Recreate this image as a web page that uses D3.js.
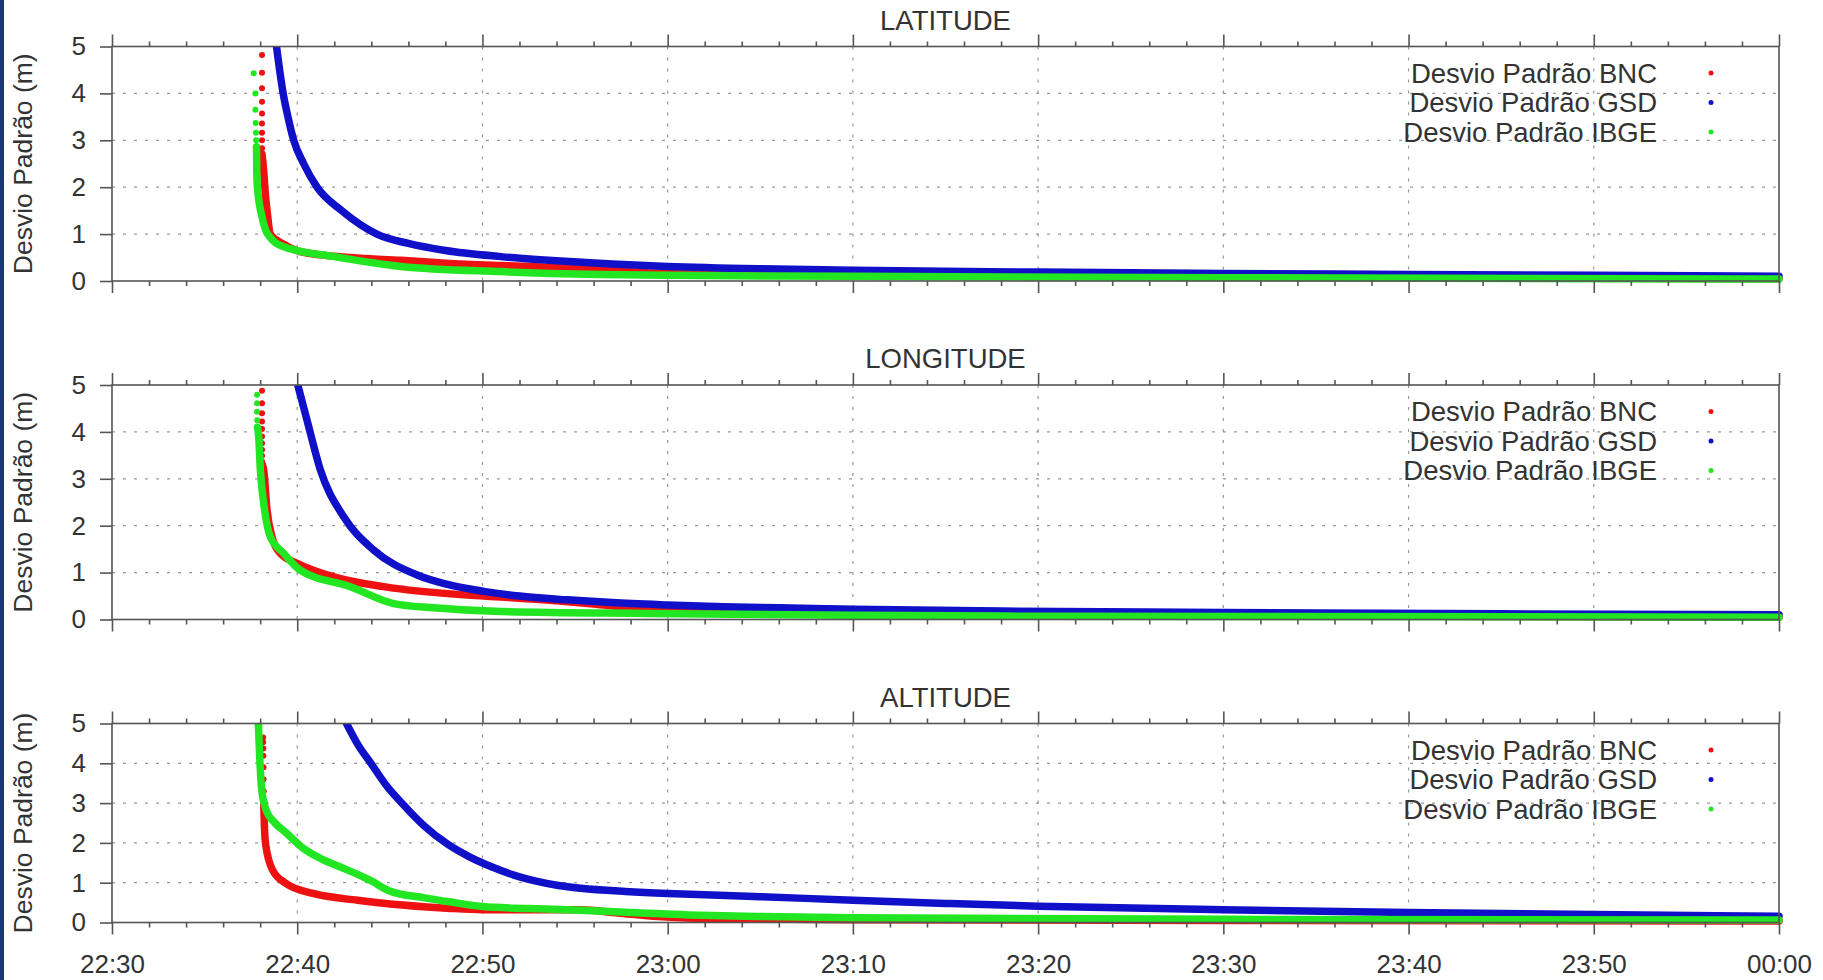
<!DOCTYPE html>
<html>
<head>
<meta charset="utf-8">
<script src="https://cdn.jsdelivr.net/npm/d3@7"></script>
<style>
body { margin: 0; background: #fff; }
text { font-family: "Liberation Sans", Arial, sans-serif; fill: #333; }
</style>
</head>
<body>
<svg id="chart" width="1823" height="980"></svg>
<script>
// times are minutes after 22:30, values in metres
var titles = ['LATITUDE', 'LONGITUDE', 'ALTITUDE'];
var seriesNames = ['Desvio Padrão BNC', 'Desvio Padrão GSD', 'Desvio Padrão IBGE'];
var yTicks = [0, 1, 2, 3, 4, 5];

var latBnc = [[8.1,2.7],[8.2,2.3],[8.25,2.0],[8.4,1.4],[8.55,1.0],[9.3,0.78],[10.2,0.62],[12.9,0.5],[15.6,0.44],[18,0.38],[21,0.33],[24,0.29],[26.5,0.25],[28,0.2],[30,0.16],[35,0.13],[45,0.1],[60,0.08],[90,0.05]];
var latBncDots = [[8.1,4.82],[8.1,4.44],[8.1,4.11],[8.1,3.82],[8.1,3.57],[8.1,3.36],[8.1,3.16],[8.1,3.0],[8.1,2.83]];
var latGsd = [[8.88,5],[9.05,4.5],[9.24,4],[9.5,3.5],[9.81,3],[10.35,2.5],[11.07,2],[12.4,1.5],[14.3,1.0],[16,0.8],[18,0.65],[21,0.52],[24,0.43],[27,0.36],[30,0.31],[35,0.26],[40,0.23],[50,0.19],[60,0.16],[70,0.14],[80,0.12],[90,0.1]];
var latGsdDots = [];
var latIbge = [[7.8,2.86],[7.82,2.3],[7.85,2.0],[8.1,1.37],[8.4,1.0],[9.27,0.73],[12,0.52],[15.6,0.31],[21,0.2],[26.4,0.14],[30,0.12],[40,0.1],[60,0.07],[90,0.04]];
var latIbgeDots = [[7.65,4.43],[7.74,4.0],[7.74,3.65],[7.76,3.37],[7.77,3.16],[7.78,3.0]];

var lonBnc = [[8.12,3.3],[8.19,3.19],[8.37,2.33],[8.64,1.76],[9.09,1.41],[9.99,1.2],[11.97,0.91],[14.67,0.7],[19.17,0.52],[21,0.48],[24,0.4],[26,0.33],[28,0.25],[30,0.2],[35,0.15],[45,0.1],[60,0.08],[90,0.05]];
var lonBncDots = [[8.1,4.88],[8.1,4.61],[8.1,4.4],[8.1,4.22],[8.1,4.06],[8.1,3.9],[8.1,3.76],[8.1,3.62],[8.1,3.49],[8.1,3.37]];
var lonGsd = [[10.03,5],[10.53,4.25],[11.25,3.19],[12.51,2.19],[14.13,1.48],[16.47,0.95],[18,0.76],[20.07,0.6],[22,0.5],[24.57,0.42],[27,0.36],[30,0.31],[33,0.27],[36,0.25],[40,0.22],[48,0.18],[60,0.15],[75,0.12],[90,0.1]];
var lonGsdDots = [];
var lonIbge = [[7.85,4.1],[7.92,3.9],[8.01,3.19],[8.19,2.48],[8.55,1.76],[9.27,1.41],[10.17,1.05],[12.87,0.7],[15.21,0.34],[17.37,0.25],[21,0.17],[29,0.13],[40,0.09],[50,0.07],[90,0.05]];
var lonIbgeDots = [[7.83,4.79],[7.83,4.61],[7.83,4.43],[7.84,4.25]];

var altBnc = [[8.19,3.02],[8.23,2.4],[8.3,1.95],[8.68,1.31],[9.4,0.98],[10.85,0.73],[13.26,0.56],[15.67,0.44],[18.08,0.36],[20,0.32],[23,0.32],[25.3,0.32],[27.3,0.24],[29.5,0.15],[31.77,0.1],[40,0.07],[60,0.05],[90,0.04]];
var altBncDots = [[8.16,4.65],[8.16,4.53],[8.17,4.37],[8.17,4.19],[8.18,3.9],[8.18,3.6],[8.19,3.3]];
var altGsd = [[12.66,5],[13.3,4.45],[13.98,4.0],[14.8,3.45],[15.67,2.99],[16.8,2.45],[18.08,1.98],[19.3,1.65],[20.49,1.4],[21.7,1.19],[22.9,1.04],[24.1,0.93],[25.31,0.86],[27.72,0.78],[30,0.73],[32,0.7],[35,0.65],[40,0.56],[45,0.48],[50,0.41],[60,0.32],[70,0.25],[80,0.2],[90,0.16]];
var altGsdDots = [];
var altIbge = [[7.9,5],[7.97,4.2],[8.07,3.4],[8.3,2.85],[8.8,2.5],[9.36,2.27],[10.37,1.85],[11.3,1.6],[12.3,1.4],[13.2,1.22],[13.98,1.05],[14.95,0.8],[16.87,0.62],[18.5,0.5],[20,0.4],[22.5,0.35],[25.3,0.31],[28,0.25],[31.77,0.18],[35,0.15],[40,0.12],[60,0.08],[90,0.06]];
var altIbgeDots = [];

var panelSeries = [
	[[latBnc, latBncDots], [latGsd, latGsdDots], [latIbge, latIbgeDots]],
	[[lonBnc, lonBncDots], [lonGsd, lonGsdDots], [lonIbge, lonIbgeDots]],
	[[altBnc, altBncDots], [altGsd, altGsdDots], [altIbge, altIbgeDots]]
];

var colors = ['#ee1111', '#1010c8', '#22e622'],
	panelBox = [[46.5, 281], [385, 619.5], [723.5, 922.5]],
	left = 112, right = 1779;

var t0 = new Date(2015, 0, 1, 22, 30);
function tm(m) { return new Date(t0.getTime() + m * 60000); }

var svg = d3.select('#chart');
svg.append('rect').attr('width', 1823).attr('height', 980).attr('fill', '#fff');
svg.append('rect').attr('width', 4).attr('height', 980).attr('fill', '#17377a');

var x = d3.scaleTime().domain([tm(0), tm(90)]).range([left, right]);
var majorT = d3.range(0, 91, 10).map(tm),
	minorT = d3.range(0, 91, 2).filter(function (m) { return m % 10; }).map(tm);

panelBox.forEach(function (box, p) {
	var top = box[0], bottom = box[1],
		y = d3.scaleLinear().domain([0, 5]).range([bottom, top]),
		g = svg.append('g').attr('class', 'panel');

	// grid
	g.selectAll('line.hgrid').data([1, 2, 3, 4]).enter().append('line')
		.attr('x1', left).attr('x2', right)
		.attr('y1', function (d) { return y(d); }).attr('y2', function (d) { return y(d); })
		.attr('stroke', '#999').attr('stroke-width', 1.2).attr('stroke-dasharray', '3,8');
	g.selectAll('line.vgrid').data(majorT.slice(1, -1)).enter().append('line')
		.attr('x1', function (d) { return x(d); }).attr('x2', function (d) { return x(d); })
		.attr('y1', top).attr('y2', bottom)
		.attr('stroke', '#999').attr('stroke-width', 1.2).attr('stroke-dasharray', '3,8');

	// series
	var clipId = 'clip' + p;
	g.append('clipPath').attr('id', clipId).append('rect')
		.attr('x', left - 10).attr('y', top).attr('width', right - left + 14).attr('height', bottom - top + 4);
	var line = d3.line()
		.x(function (d) { return x(tm(d[0])); })
		.y(function (d) { return y(d[1]); })
		.curve(d3.curveMonotoneX);
	var plot = g.append('g').attr('clip-path', 'url(#' + clipId + ')');
	[0, 1, 2].forEach(function (i) {
		var s = panelSeries[p][i];
		plot.append('path').datum(s[0]).attr('d', line)
			.attr('fill', 'none').attr('stroke', colors[i]).attr('stroke-width', 7.5)
			.attr('stroke-linecap', 'round').attr('stroke-linejoin', 'round');
		plot.selectAll('circle.s' + i).data(s[1]).enter().append('circle')
			.attr('cx', function (d) { return x(tm(d[0])); })
			.attr('cy', function (d) { return y(d[1]); })
			.attr('r', 3).attr('fill', colors[i]);
	});

	// frame
	g.append('rect').attr('x', left).attr('y', top).attr('width', right - left).attr('height', bottom - top)
		.attr('fill', 'none').attr('stroke', '#555').attr('stroke-width', 1.6);

	// ticks
	var lastPanel = p === panelBox.length - 1;
	g.append('g').attr('transform', 'translate(0,' + bottom + ')')
		.call(d3.axisBottom(x).tickValues(majorT).tickSize(12).tickPadding(20)
			.tickFormat(lastPanel ? d3.timeFormat('%H:%M') : function () { return ''; }));
	g.append('g').attr('transform', 'translate(0,' + bottom + ')')
		.call(d3.axisBottom(x).tickValues(minorT).tickSize(5).tickFormat(''));
	g.append('g').attr('transform', 'translate(0,' + top + ')')
		.call(d3.axisTop(x).tickValues(majorT).tickSize(12).tickFormat(''));
	g.append('g').attr('transform', 'translate(0,' + top + ')')
		.call(d3.axisTop(x).tickValues(minorT).tickSize(5).tickFormat(''));
	g.append('g').attr('transform', 'translate(' + left + ',0)')
		.call(d3.axisLeft(y).tickValues(yTicks).tickSize(12).tickPadding(14).tickFormat(d3.format('d')));

	g.selectAll('.domain').remove();
	g.selectAll('.tick line').attr('stroke', '#555').attr('stroke-width', 1.6);
	g.selectAll('.tick text').attr('font-size', 26).attr('fill', '#333')
		.style('font-family', '"Liberation Sans", Arial, sans-serif');

	// title and y label
	g.append('text').attr('x', (left + right) / 2).attr('y', top - 17)
		.attr('text-anchor', 'middle').attr('font-size', 27.5).text(titles[p]);
	g.append('text').attr('transform', 'translate(32,' + (top + bottom) / 2 + ') rotate(-90)')
		.attr('text-anchor', 'middle').attr('font-size', 26.5).text('Desvio Padrão (m)');

	// legend
	var leg = g.selectAll('g.legend').data(seriesNames).enter().append('g')
		.attr('transform', function (d, i) { return 'translate(0,' + (top + 26.5 + i * 29.5) + ')'; });
	leg.append('text').attr('x', 1657).attr('dy', '0.36em').attr('text-anchor', 'end')
		.attr('font-size', 27.5).text(function (d) { return d; });
	leg.append('circle').attr('cx', 1711).attr('r', 2.5)
		.attr('fill', function (d, i) { return colors[i]; });
});
</script>
</body>
</html>
